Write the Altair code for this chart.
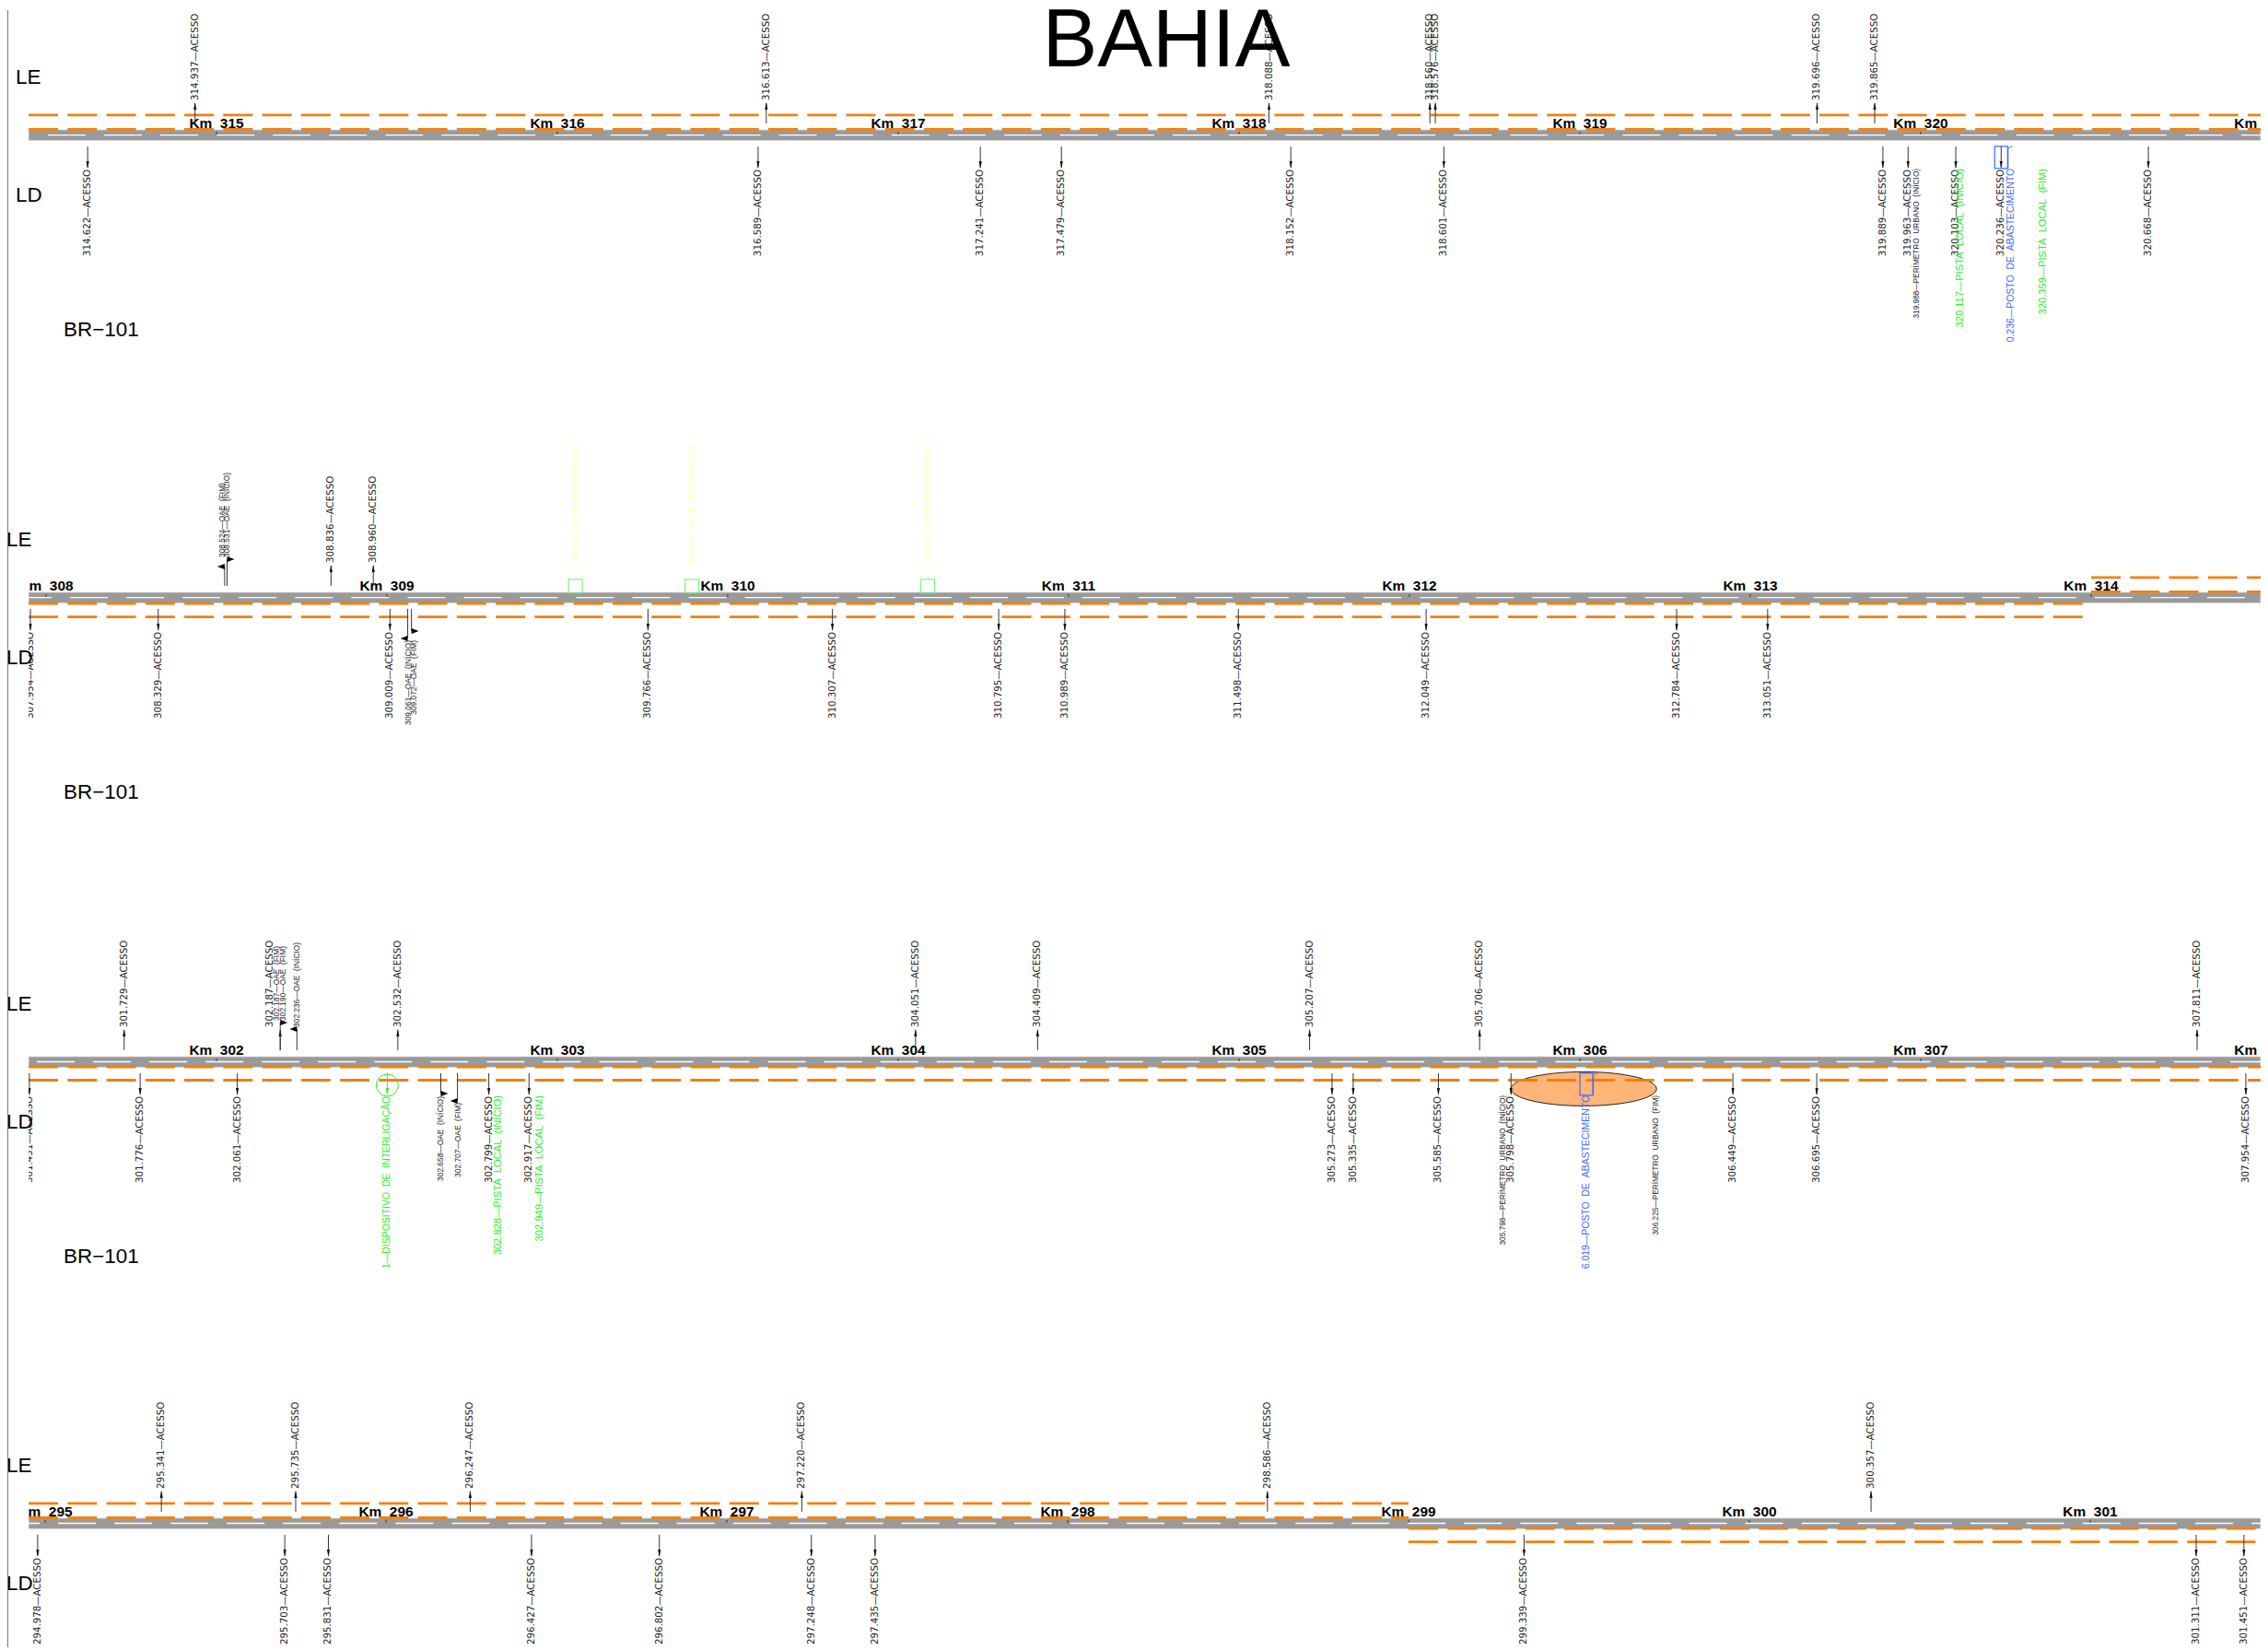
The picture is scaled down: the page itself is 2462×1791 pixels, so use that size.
import altair as alt
import pandas as pd

# ---------- data ----------
ROW_KM_START = [315, 308, 302, 295]
ROW_KMS = [list(range(315, 322)), list(range(308, 315)), list(range(302, 309)), list(range(295, 302))]

LE_ACESSO = [
    [314.937, 316.613, 318.088, 318.560, 318.576, 319.696, 319.865],
    [308.836, 308.960],
    [301.729, 302.187, 302.532, 304.051, 304.409, 305.207, 305.706, 307.811],
    [295.341, 295.735, 296.247, 297.220, 298.586, 300.357],
]
LD_ACESSO = [
    [314.622, 316.589, 317.241, 317.479, 318.152, 318.601, 319.889, 319.963, 320.103, 320.236, 320.668],
    [307.954, 308.329, 309.009, 309.766, 310.307, 310.795, 310.989, 311.498, 312.049, 312.784, 313.051],
    [301.451, 301.776, 302.061, 302.799, 302.917, 305.273, 305.335, 305.585, 305.798, 306.449, 306.695, 307.954],
    [294.978, 295.703, 295.831, 296.427, 296.802, 297.248, 297.435, 299.339, 301.311, 301.451],
]
HOTEL_KMS = [309.553, 309.895, 310.587]
PISTA_LOCAL = [(0, 320.117, "(INÍCIO)"), (0, 320.359, "(FIM)"), (2, 302.828, "(INÍCIO)"), (2, 302.949, "(FIM)")]
POSTOS = [(0, 320.236, "320.236"), (2, 306.019, "306.019")]
PERIMETRO = [(0, 319.988, "(INÍCIO)"), (2, 305.798, "(INÍCIO)"), (2, 306.225, "(FIM)")]
OAE_LE = [(1, 308.524, "(FIM)"), (1, 308.531, "(INÍCIO)"), (2, 302.187, "(FIM)"), (2, 302.190, "(FIM)"), (2, 302.236, "(INÍCIO)")]
OAE_LD = [(1, 309.061, "(INÍCIO)"), (1, 309.072, "(FIM)"), (2, 302.658, "(INÍCIO)"), (2, 302.707, "(FIM)")]
DISPOSITIVO = (2, 302.501)
TITLE = "BAHIA"
ROAD_NAME = "BR\u2212101"

# ---------- layout ----------
W, H = 2454, 1783
S = 2470 / 2462            # page is 2470 wide (margins), photographed at 2462
PX_PER_KM = 370 * S
ROAD_TOP = [141, 643, 1147, 1648]
KM_START_PX = [235, 50, 235, 49]
WHITE_START = [52, 15, 40, 2]
LEFT = 31
NB = "\u00a0"
GRAY = "#9a9a9a"
ORANGE = "#f57f08"
GREEN = "#2cee2c"
BLUE = "#3b6cff"
YELLOW = "#ffffa6"
INK = "#222222"
FONT = "Liberation Sans"
ACESSO_FONT = "DejaVu Sans"


def kx(row, km, dx=0):
    return km - ROW_KM_START[row] + ((KM_START_PX[row] + dx) * S - 8) / PX_PER_KM


def px(v):
    return (v * S - 8) / PX_PER_KM


def py(v):
    return v * S - 11


X = alt.X("x:Q", axis=None, scale=alt.Scale(domain=[0, W / PX_PER_KM], range=[0, W], nice=False, zero=False))
Y = alt.Y("y:Q", axis=None, scale=alt.Scale(domain=[0, H], range=[0, H], nice=False, zero=False))
layers = []


def hrules(items, **mark):
    df = pd.DataFrame([{"x": a, "x2": b, "y": y} for a, b, y in items])
    layers.append(alt.Chart(df).mark_rule(**mark).encode(x=X, x2=alt.X2("x2"), y=Y))


def vrules(items, **mark):
    df = pd.DataFrame([{"x": x, "y": a, "y2": b} for x, a, b in items])
    layers.append(alt.Chart(df).mark_rule(**mark).encode(x=X, y=Y, y2=alt.Y2("y2")))


def rects(items, **mark):
    df = pd.DataFrame([{"x": a, "x2": b, "y": c, "y2": d} for a, b, c, d in items])
    layers.append(alt.Chart(df).mark_rect(**mark).encode(x=X, x2=alt.X2("x2"), y=Y, y2=alt.Y2("y2")))


def symbols(items, shape, size, color, filled=True, **mark):
    df = pd.DataFrame([{"x": x, "y": y} for x, y in items])
    if filled:
        m = alt.Chart(df).mark_point(shape=shape, size=size, filled=True, color=color, opacity=1, strokeWidth=0, **mark)
    else:
        m = alt.Chart(df).mark_point(shape=shape, size=size, filled=False, color=color, opacity=1, **mark)
    layers.append(m.encode(x=X, y=Y))


def texts(items, size, color, align, angle=270, baseline="middle", weight="normal", font=FONT):
    df = pd.DataFrame([{"x": x, "y": y, "t": t} for x, y, t in items])
    layers.append(alt.Chart(df).mark_text(fontSize=size, color=color, align=align, angle=angle,
                                          baseline=baseline, font=font, fontWeight=weight)
                  .encode(x=X, y=Y, text="t:N"))


ARROW_UP = "M0,0 L.4,2 L-.4,2 Z"
ARROW_DOWN = "M0,0 L.4,-2 L-.4,-2 Z"
ARROW_RIGHT = "M2,0 L0,-.75 L0,.75 Z"
ARROW_LEFT = "M-2,0 L0,-.75 L0,.75 Z"
ELLIPSE = ("M-1,0 C-1,-.129 -.552,-.234 0,-.234 C.552,-.234 1,-.129 1,0 "
           "C1,.129 .552,.234 0,.234 C-.552,.234 -1,.129 -1,0 Z")
HOOK = "M-.2,1 L-.2,-.7 Q-.2,-1 .2,-1"

# urban-perimeter ellipse, under the orange dashes
r = 2
mid = (PERIMETRO[1][1] + PERIMETRO[2][1]) / 2
span = (PERIMETRO[2][1] - PERIMETRO[1][1]) * PX_PER_KM
df_e = pd.DataFrame([{"x": kx(r, mid), "y": py(ROAD_TOP[r] + 35)}])
layers.append(alt.Chart(df_e).mark_point(shape=ELLIPSE, size=span ** 2, filled=True, fill="#ffb478",
                                         stroke="#222222", strokeWidth=1, opacity=1).encode(x=X, y=Y))

# road band
sw = W / PX_PER_KM
rects([(px(LEFT), sw, py(t), py(t + 11.6)) for t in ROAD_TOP], color=GRAY, stroke="#dcdcdc", strokeWidth=0.8)

# orange dashes
orange = []
orange += [(px(LEFT), sw, py(ROAD_TOP[0] - 16)), (px(LEFT), sw, py(ROAD_TOP[0] - 0.6))]
end2 = px(2262)
orange += [(px(LEFT), end2, py(ROAD_TOP[1] + 12.3)), (px(LEFT), end2, py(ROAD_TOP[1] + 26.8))]
start2 = kx(1, 314)
orange += [(start2, sw, py(ROAD_TOP[1] - 16)), (start2, sw, py(ROAD_TOP[1] - 0.6))]
orange += [(px(LEFT), sw, py(ROAD_TOP[2] + 11.3)), (px(LEFT), sw, py(ROAD_TOP[2] + 25.6))]
end4 = kx(3, 299)
orange += [(px(LEFT), end4, py(ROAD_TOP[3] - 16)), (px(LEFT), end4, py(ROAD_TOP[3] - 0.6))]
orange += [(end4, sw, py(ROAD_TOP[3] + 11.3)), (end4, sw, py(ROAD_TOP[3] + 25.8))]
hrules(orange, color=ORANGE, strokeWidth=2.8, strokeDash=[32.1, 10.3])

# white centre dashes
hrules([(px(WHITE_START[i]), sw, py(ROAD_TOP[i] + 5.6)) for i in range(4)],
       color="#ffffff", strokeWidth=1.3, strokeDash=[41.1, 20.15])

# km ticks and labels
vrules([(kx(i, k), py(ROAD_TOP[i] + 2), py(ROAD_TOP[i] + 5)) for i in range(4) for k in ROW_KMS[i]],
       color="#333333", strokeWidth=1)
texts([(kx(i, k), py(ROAD_TOP[i] - 2), f"Km{NB}{NB}{k}") for i in range(4) for k in ROW_KMS[i]],
      15.5, "#000000", "center", angle=0, baseline="alphabetic", weight="bold")

# acesso marks
line_le, tip_le, txt_le, line_ld, tip_ld, txt_ld = [], [], [], [], [], []
for i in range(4):
    t = ROAD_TOP[i]
    for km in LE_ACESSO[i]:
        dx = -11 if km == 302.187 else 0
        line_le.append((kx(i, km), py(t - 7), py(t - 29)))
        tip_le.append((kx(i, km), py(t - 30)))
        txt_le.append((kx(i, km, dx), py(t - 32), f"{km:.3f}\u2014ACESSO"))
    for km in LD_ACESSO[i]:
        line_ld.append((kx(i, km), py(t + 18), py(t + 41)))
        tip_ld.append((kx(i, km), py(t + 42)))
        txt_ld.append((kx(i, km), py(t + 43), f"{km:.3f}\u2014ACESSO"))
vrules(line_le + line_ld, color="#333333", strokeWidth=1)
symbols(tip_le, ARROW_UP, 64, "#111111")
symbols(tip_ld, ARROW_DOWN, 64, "#111111")
texts(txt_le, 10.3, INK, "left", font=ACESSO_FONT)
texts(txt_ld, 10.3, INK, "right", font=ACESSO_FONT)

# hotel / restaurant marks
hotel_top = ROAD_TOP[1]
rects([(kx(1, k, -7.5), kx(1, k, 7.5), py(hotel_top - 14), py(hotel_top + 1)) for k in HOTEL_KMS],
      fillOpacity=0, stroke="#66f066", strokeWidth=1)
texts([(kx(1, k), py(hotel_top - 31), f"{k:.3f}\u2014HOTEL/RESTAURANTE") for k in HOTEL_KMS], 8.4, YELLOW, "left")

# local lane labels
texts([(kx(i, k), py(ROAD_TOP[i] + 42), f"{k:.3f}\u2014PISTA{NB}{NB}LOCAL{NB}{NB}{end}") for i, k, end in PISTA_LOCAL],
      11.2, GREEN, "right")

# fuel stations
rects([(kx(i, k, -7), kx(i, k, 7), py(ROAD_TOP[i] + 18), py(ROAD_TOP[i] + 42)) for i, k, _ in POSTOS],
      fillOpacity=0, stroke=BLUE, strokeWidth=1.2)
symbols([(kx(i, k, 10), py(ROAD_TOP[i] + 30)) for i, k, _ in POSTOS], HOOK, 576, BLUE, filled=False, strokeWidth=1)
texts([(kx(i, k, 11 if i == 0 else 0), py(ROAD_TOP[i] + 42), f"{lbl}\u2014POSTO{NB}{NB}DE{NB}{NB}ABASTECIMENTO")
       for i, k, lbl in POSTOS], 10.5, BLUE, "right")

# perimeter labels
texts([(kx(i, k, -8 if k == 305.798 else 0), py(ROAD_TOP[i] + 42), f"{k:.3f}\u2014PERÍMETRO{NB}{NB}URBANO{NB}{NB}{end}")
       for i, k, end in PERIMETRO], 8.3, INK, "right")

# bridges, left side
oae_text_dx = {308.524: -3, 308.531: 0, 302.187: -4, 302.190: 2, 302.236: 0, 309.061: 0, 309.072: 2, 302.658: 0, 302.707: 0}
ends_le = {308.524: -28, 308.531: -36, 302.187: -37, 302.236: -30}
vrules([(kx(i, k), py(ROAD_TOP[i] - 7), py(ROAD_TOP[i] + ends_le[k])) for i, k, _ in OAE_LE if k in ends_le],
       color="#333333", strokeWidth=1)
symbols([(kx(1, 308.524), py(ROAD_TOP[1] - 28)), (kx(2, 302.236), py(ROAD_TOP[2] - 30))], ARROW_LEFT, 64, "#000000")
symbols([(kx(1, 308.531), py(ROAD_TOP[1] - 36)), (kx(2, 302.187), py(ROAD_TOP[2] - 37))], ARROW_RIGHT, 64, "#000000")
oae_bottom = {308.524: -38, 308.531: -38, 302.187: -39, 302.190: -39, 302.236: -32}
texts([(kx(i, k, oae_text_dx[k]), py(ROAD_TOP[i] + oae_bottom[k]), f"{k:.3f}\u2014OAE{NB}{NB}{end}") for i, k, end in OAE_LE],
      8.4, INK, "left")

# bridges, right side
ends_ld = {309.061: 50, 309.072: 42, 302.658: 40, 302.707: 48}
vrules([(kx(i, k), py(ROAD_TOP[i] + 18), py(ROAD_TOP[i] + ends_ld[k])) for i, k, _ in OAE_LD],
       color="#333333", strokeWidth=1)
symbols([(kx(1, 309.061), py(ROAD_TOP[1] + 50)), (kx(2, 302.707), py(ROAD_TOP[2] + 48))], ARROW_LEFT, 64, "#000000")
symbols([(kx(1, 309.072), py(ROAD_TOP[1] + 42)), (kx(2, 302.658), py(ROAD_TOP[2] + 40))], ARROW_RIGHT, 64, "#000000")
oae_top = {309.061: 52, 309.072: 52, 302.658: 43, 302.707: 50}
texts([(kx(i, k, oae_text_dx[k]), py(ROAD_TOP[i] + oae_top[k]), f"{k:.3f}\u2014OAE{NB}{NB}{end}") for i, k, end in OAE_LD],
      8.4, INK, "right")

# interchange device
di, dk = DISPOSITIVO
dt = ROAD_TOP[di]
symbols([(kx(di, dk), py(dt + 31))], "circle", 576, GREEN, filled=False, strokeWidth=1)
vrules([(kx(di, dk), py(dt + 18), py(dt + 41))], color=GREEN, strokeWidth=1)
symbols([(kx(di, dk), py(dt + 42))], ARROW_DOWN, 64, GREEN)
texts([(kx(di, dk), py(dt + 43), f"{dk:.3f}\u2014DISPOSITIVO{NB}{NB}DE{NB}{NB}INTERLIGAÇÃO")], 10.5, GREEN, "right")

# white masks: drawing window of each strip
rects([(px(160), sw, py(ROAD_TOP[i] + 230), py(ROAD_TOP[i] + 300)) for i in (0, 2)], color="#ffffff")
rects([(0, px(LEFT), 0, H)], color="#ffffff")

# side labels
texts([(px(17 if i == 0 else 7), py(ROAD_TOP[i] - 50), "LE") for i in range(4)], 22.5, "#000000", "left", angle=0, baseline="alphabetic")
texts([(px(17 if i == 0 else 7), py(ROAD_TOP[i] + 78), "LD") for i in range(4)], 22.5, "#000000", "left", angle=0, baseline="alphabetic")
texts([(px(69), py(ROAD_TOP[i] + 224), ROAD_NAME) for i in range(4)], 22.5, "#000000", "left", angle=0, baseline="alphabetic")

# page edge line
vrules([(0, 0, H)], color="#777777", strokeWidth=2)

# title
texts([(px(1266), py(72), TITLE)], 90, "#000000", "center", angle=0, baseline="alphabetic")

chart = alt.layer(*layers).properties(
    width=W, height=H, padding=0, background="#ffffff", autosize=alt.AutoSizeParams(type="none")
).configure_view(stroke=None)

chart.save("out.html", embed_options={"renderer": "svg", "actions": False})
